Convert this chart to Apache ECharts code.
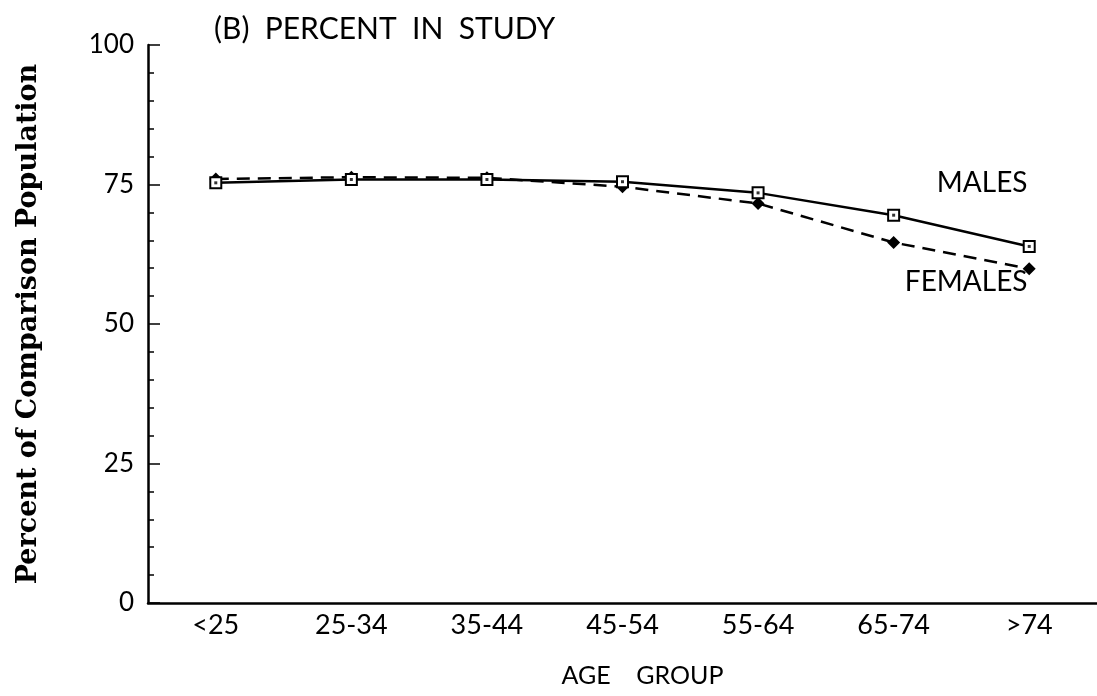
<!DOCTYPE html>
<html>
<head>
<meta charset="utf-8">
<script src="https://cdn.jsdelivr.net/npm/echarts@6/dist/echarts.min.js"></script>
<style>
  html, body { margin: 0; padding: 0; background: #fff; }
  #chart { width: 1097px; height: 696px; }
</style>
</head>
<body>
<div id="chart"></div>
<script>
// age groups on the x axis
const ageGroups = ['<25', '25-34', '35-44', '45-54', '55-64', '65-74', '>74'];
// percent of comparison population in study
const males = [75.3, 75.9, 75.9, 75.5, 73.5, 69.5, 63.9];
const females = [76.0, 76.3, 76.2, 74.6, 71.6, 64.6, 59.9];
const yTicks = [0, 25, 50, 75, 100];

const chart = echarts.init(document.getElementById('chart'));
const font = 'Lato, "Open Sans", sans-serif';
const last = ageGroups.length - 1;

// put the series name next to the last point
function withEndLabel(arr, text, offset) {
  return arr.map((v, i) => i === last ? {
    value: v,
    label: {
      show: true, position: 'inside', offset: offset, formatter: text,
      color: '#000', fontFamily: font, fontSize: 28
    }
  } : v);
}

const option = {
  animation: false,
  backgroundColor: '#fff',
  title: {
    text: '(B)  PERCENT  IN  STUDY',
    left: 209, top: 9,
    textStyle: { fontFamily: font, fontWeight: 'normal', fontSize: 30, color: '#000' }
  },
  grid: { left: 148, right: 0, top: 45, bottom: 93 },
  xAxis: [
    {
      type: 'category',
      data: ageGroups,
      name: 'AGE    GROUP',
      nameLocation: 'middle',
      nameGap: 60,
      nameTextStyle: { fontFamily: font, fontSize: 25, color: '#000', padding: [0, 0, 0, 40] },
      axisLine: { lineStyle: { color: '#000', width: 2.5 } },
      axisTick: { inside: true, alignWithLabel: true, length: 12, lineStyle: { color: '#000', width: 1.5 } },
      axisLabel: { fontFamily: font, fontSize: 27, color: '#000', margin: 9 },
      splitLine: { show: false }
    },
    {
      // short ticks between the age groups
      type: 'category',
      data: ageGroups,
      position: 'bottom',
      axisLine: { show: false },
      axisTick: { inside: true, length: 6, lineStyle: { color: '#000', width: 1.5 } },
      axisLabel: { show: false },
      splitLine: { show: false }
    }
  ],
  yAxis: {
    type: 'value',
    min: yTicks[0], max: yTicks[yTicks.length - 1], interval: 25,
    name: 'Percent of Comparison Population',
    nameLocation: 'middle',
    nameGap: 106,
    nameRotate: 90,
    nameTextStyle: { fontFamily: '"DejaVu Serif", serif', fontWeight: 'bold', fontSize: 27, color: '#000' },
    axisLine: { show: true, lineStyle: { color: '#000', width: 2.5 } },
    axisTick: { show: true, inside: true, length: 12, lineStyle: { color: '#000', width: 1.5 } },
    minorTick: { show: true, splitNumber: 5, length: 6, lineStyle: { color: '#000', width: 1.5 } },
    axisLabel: { fontFamily: font, fontSize: 26, color: '#000', margin: 14 },
    splitLine: { show: false },
    minorSplitLine: { show: false }
  },
  series: [
    {
      name: 'FEMALES',
      type: 'line',
      data: withEndLabel(females, 'FEMALES', [-63, 13]),
      symbol: 'diamond',
      symbolSize: 13,
      lineStyle: { color: '#000', width: 2.5, type: [13, 8] },
      itemStyle: { color: '#000' },
      z: 2
    },
    {
      name: 'MALES',
      type: 'line',
      data: withEndLabel(males, 'MALES', [-47, -63]),
      symbol: 'rect',
      symbolSize: 11,
      showAllSymbol: true,
      lineStyle: { color: '#000', width: 2.5 },
      itemStyle: { color: '#fff', borderColor: '#000', borderWidth: 2 },
      z: 3
    },
    {
      // dot in the middle of the male squares
      type: 'scatter',
      data: males,
      symbol: 'rect',
      symbolSize: 3,
      itemStyle: { color: '#000' },
      z: 4
    }
  ]
};

chart.setOption(option);
</script>
</body>
</html>
